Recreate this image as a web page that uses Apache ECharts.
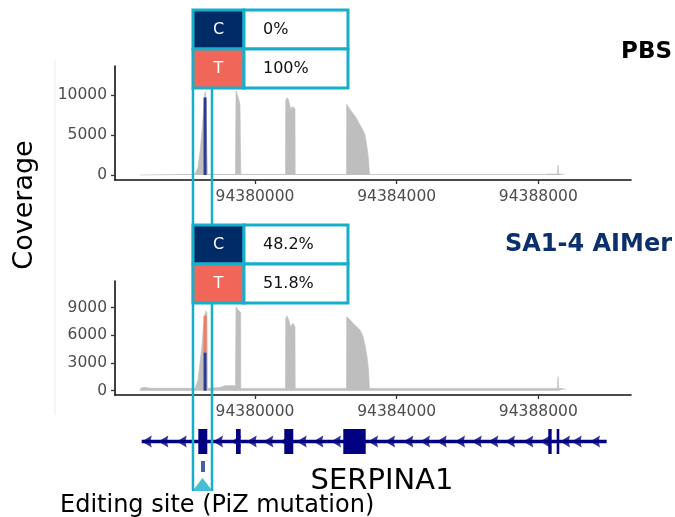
<!DOCTYPE html>
<html>
<head>
<meta charset="utf-8">
<script src="https://cdn.jsdelivr.net/npm/echarts@6/dist/echarts.min.js"></script>
<style>html,body{margin:0;padding:0;background:#fff}#c{width:675px;height:517px}</style>
</head>
<body>
<div id="c"></div>
<script>
// ---- data ----
const xMin = 94376047, xMax = 94390617;
const xTicks = [94380000, 94384000, 94388000];
const topYTicks = [0, 5000, 10000];
const botYTicks = [0, 3000, 6000, 9000];

const pbsPos = [94376753,94376753,94378306,94378354,94378391,94378447,94378504,94378546,94378574,94378602,94378645,94378659,94378673,94379449,94379464,94379492,94379534,94379576,94379596,94379599,94380861,94380867,94380904,94380946,94380988,94381016,94381045,94381101,94381129,94381135,94382584,94382589,94382682,94382767,94382852,94382965,94383049,94383106,94383162,94383205,94383227,94383236,94388188,94388273,94388541,94388555,94388575,94388753,94388759];
const pbsCov = [0,100,80,80,1000,2900,5500,7800,10000,10400,10200,80,80,80,10500,10300,9600,8800,8800,80,80,9300,9660,9400,8600,8125,8540,8500,8300,80,80,8830,8200,7700,7200,6250,5600,5000,3500,2000,500,60,60,120,130,1250,130,60,0];

const aimPos = [94376753,94376781,94376894,94377035,94378306,94378354,94378391,94378447,94378504,94378546,94378588,94378617,94378645,94378659,94379012,94379153,94379379,94379449,94379464,94379492,94379534,94379576,94379596,94379599,94380861,94380867,94380904,94380960,94381002,94381031,94381073,94381115,94381129,94381135,94382584,94382589,94382682,94382767,94382852,94382965,94383049,94383106,94383162,94383205,94383227,94383236,94388188,94388541,94388555,94388575,94388753,94388759];
const aimCov = [0,300,370,260,260,260,1200,3000,4950,7100,8300,8640,8400,260,350,540,560,500,9100,8900,8700,8560,8500,250,250,7800,8130,7600,6900,6760,7300,7100,6900,250,250,8020,7700,7300,7000,6580,5900,4950,3700,2300,600,250,250,250,1520,250,200,0];

const sitePos = 94378590;
const pbsC = 9700, pbsT = 0;
const aimC = 4150, aimT = 3980;

const geneStart = 94376801, geneEnd = 94389930;
const exonStart = [94378399,94379464,94380827,94382493,94388281,94388519];
const exonEnd   = [94378653,94379596,94381081,94383126,94388377,94388592];
const arrowPos = [94376801,94377270,94377789,94378814,94379322,94379766,94380234,94380706,94381177,94381646,94382146,94383191,94383671,94384187,94384659,94385130,94385647,94386119,94386587,94387059,94387575,94388047,94388612,94388942,94389459];
const markerPos = 94378532;
const boxLeft = 94378249, boxRight = 94378786;

const bases = ['C', 'T'];
const pbsPct = ['0%', '100%'];
const aimPct = ['48.2%', '51.8%'];

// ---- styles ----
const FONT = 'DejaVu Sans';
const NAVY = '#000080';
const CYAN = '#17aecb';
const CCOL = '#002b66', TCOL = '#f0675a';
const BARBLUE = '#2e3a8e', BARORANGE = '#f07a62';

const chart = echarts.init(document.getElementById('c'), null, {renderer: 'canvas'});

function xAx(gi, show) {
  return {
    type: 'value', gridIndex: gi, min: xMin, max: xMax, show: show,
    splitLine: {show: false},
    axisLine: {show: true, onZero: false, lineStyle: {color: '#111', width: 1.6}},
    axisTick: {show: true, length: 4, customValues: xTicks, lineStyle: {color: '#333', width: 1.3}},
    axisLabel: {show: true, customValues: xTicks, margin: 9, color: '#4d4d4d', fontFamily: FONT, fontSize: 15.5, formatter: v => String(v)}
  };
}
function yAx(gi, min, max, ticks) {
  return {
    type: 'value', gridIndex: gi, min: min, max: max,
    splitLine: {show: false},
    axisLine: {show: true, onZero: false, lineStyle: {color: '#111', width: 1.6}},
    axisTick: {show: true, length: 4, customValues: ticks, lineStyle: {color: '#333', width: 1.3}},
    axisLabel: {show: true, customValues: ticks, margin: 8, color: '#4d4d4d', fontFamily: FONT, fontSize: 15.5, formatter: v => String(v)}
  };
}

function siteBars(xi, c, t) {
  return {
    type: 'custom', xAxisIndex: xi, yAxisIndex: xi, z: 5,
    data: [[sitePos, c, t]],
    renderItem: (params, api) => {
      const x = api.value(0), cv = api.value(1), tv = api.value(2);
      const p0 = api.coord([x, 0]);
      const p1 = api.coord([x, cv]);
      const p2 = api.coord([x, cv + tv]);
      const w = 3;
      return {type: 'group', children: [
        {type: 'rect', shape: {x: p0[0] - w / 2, y: p1[1], width: w, height: p0[1] - p1[1]}, style: {fill: BARBLUE}},
        {type: 'rect', shape: {x: p0[0] - w / 2, y: p2[1], width: w, height: p1[1] - p2[1]}, style: {fill: BARORANGE}}
      ]};
    }
  };
}

const option = {
  animation: false,
  grid: [
    {left: 115, right: 44, top: 66, height: 114},
    {left: 115, right: 44, top: 281, height: 114},
    {left: 115, right: 44, top: 420, height: 72}
  ],
  xAxis: [xAx(0, true), xAx(1, true), {type: 'value', gridIndex: 2, min: xMin, max: xMax, show: false}],
  yAxis: [yAx(0, -625, 13625, topYTicks), yAx(1, -466, 11890, botYTicks),
          {type: 'value', gridIndex: 2, min: 0, max: 72, inverse: true, show: false}],
  series: [
    {type: 'line', xAxisIndex: 0, yAxisIndex: 0, data: pbsPos.map((p, i) => [p, pbsCov[i]]),
     showSymbol: false, symbol: 'none', lineStyle: {width: 0.6, color: '#bdbdbd'}, areaStyle: {color: '#bebebe', opacity: 1}},
    siteBars(0, pbsC, pbsT),
    {type: 'line', xAxisIndex: 1, yAxisIndex: 1, data: aimPos.map((p, i) => [p, aimCov[i]]),
     showSymbol: false, symbol: 'none', lineStyle: {width: 0.6, color: '#bdbdbd'}, areaStyle: {color: '#bebebe', opacity: 1}},
    siteBars(1, aimC, aimT),
    {type: 'line', xAxisIndex: 2, yAxisIndex: 2, data: [[geneStart, 21.5], [geneEnd, 21.5]],
     showSymbol: false, symbol: 'none', lineStyle: {width: 3.5, color: NAVY}},
    {type: 'custom', xAxisIndex: 2, yAxisIndex: 2, data: exonStart.map((s, i) => [s, exonEnd[i]]),
     renderItem: (params, api) => {
       const a = api.coord([api.value(0), 9]);
       const b = api.coord([api.value(1), 34]);
       return {type: 'rect', shape: {x: a[0], y: a[1], width: Math.max(2.5, b[0] - a[0]), height: b[1] - a[1]}, style: {fill: NAVY}};
     }},
    {type: 'scatter', xAxisIndex: 2, yAxisIndex: 2, data: arrowPos.map(p => [p, 21.5]),
     symbol: 'path://M0,6L11,0L9.5,6L11,12Z', symbolSize: [10, 12], symbolOffset: [5, 0], itemStyle: {color: NAVY}},
    {type: 'scatter', xAxisIndex: 2, yAxisIndex: 2, data: [[markerPos, 46.5]], symbol: 'rect', symbolSize: [4, 11], itemStyle: {color: '#123c8c'}},
    {type: 'scatter', xAxisIndex: 2, yAxisIndex: 2, data: [[(boxLeft + boxRight) / 2, 64.5]], symbol: 'triangle', symbolSize: [20, 13], itemStyle: {color: CYAN}}
  ]
};
chart.setOption(option);

// ---- annotation graphics (positions derived from axes) ----
const xl = chart.convertToPixel({xAxisIndex: 2}, boxLeft);
const xr = chart.convertToPixel({xAxisIndex: 2}, boxRight);
const tableW = 155, col1 = 51;

function table(top, pcts) {
  const h = 39;
  const els = [];
  for (let i = 0; i < 2; i++) {
    const y = top + i * h;
    els.push({type: 'rect', shape: {x: xl, y: y, width: col1, height: h}, style: {fill: i === 0 ? CCOL : TCOL, stroke: CYAN, lineWidth: 3}});
    els.push({type: 'rect', shape: {x: xl + col1, y: y, width: tableW - col1, height: h}, style: {fill: '#fff', stroke: CYAN, lineWidth: 3}});
    els.push({type: 'text', x: xl + col1 / 2, y: y + h / 2, style: {text: bases[i], fill: '#fff', font: '16px ' + FONT, align: 'center', verticalAlign: 'middle'}});
    els.push({type: 'text', x: xl + col1 + 19, y: y + h / 2, style: {text: pcts[i], fill: '#111', font: '16px ' + FONT, align: 'left', verticalAlign: 'middle'}});
  }
  return els;
}

const g = [];
g.push({type: 'line', shape: {x1: 55, y1: 60, x2: 55, y2: 415}, style: {stroke: '#ebebeb', lineWidth: 1}});
g.push({type: 'line', shape: {x1: xl, y1: 87, x2: xl, y2: 491}, style: {stroke: CYAN, lineWidth: 2.5}, z: 10});
g.push({type: 'line', shape: {x1: xr, y1: 87, x2: xr, y2: 491}, style: {stroke: CYAN, lineWidth: 2.5}, z: 10});
table(10, pbsPct).forEach(e => { e.z = 11; g.push(e); });
table(225, aimPct).forEach(e => { e.z = 11; g.push(e); });
g.push({type: 'text', x: 672, y: 52, style: {text: 'PBS', fill: '#000', font: 'bold 23px ' + FONT, align: 'right', verticalAlign: 'middle'}});
g.push({type: 'text', x: 672, y: 245, style: {text: 'SA1-4 AIMer', fill: '#0b306b', font: 'bold 24px ' + FONT, align: 'right', verticalAlign: 'middle'}});
g.push({type: 'text', x: 25, y: 205, rotation: Math.PI / 2, style: {text: 'Coverage', fill: '#000', font: '27px ' + FONT, align: 'center', verticalAlign: 'middle'}});
g.push({type: 'text', x: 382, y: 481, style: {text: 'SERPINA1', fill: '#000', font: '29px ' + FONT, align: 'center', verticalAlign: 'middle'}});
g.push({type: 'text', x: 60, y: 506, style: {text: 'Editing site (PiZ mutation)', fill: '#000', font: '24px ' + FONT, align: 'left', verticalAlign: 'middle'}});

chart.setOption({graphic: {elements: g}});
</script>
</body>
</html>
